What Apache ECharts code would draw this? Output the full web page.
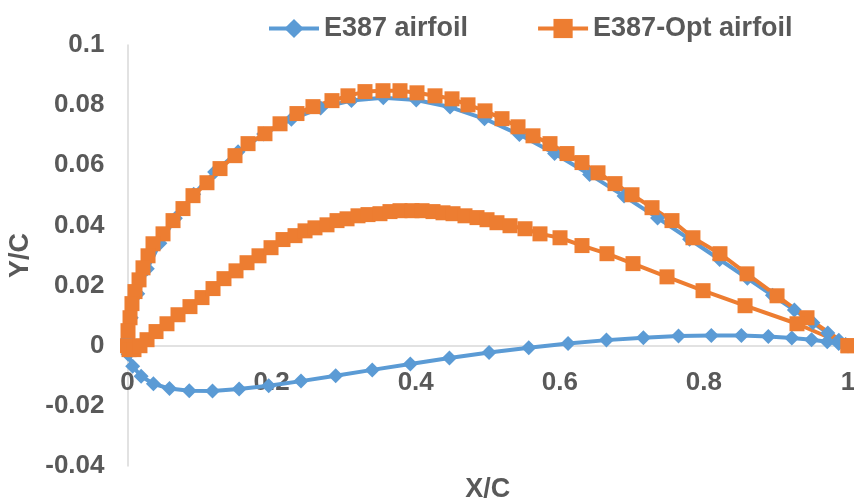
<!DOCTYPE html>
<html>
<head>
<meta charset="utf-8">
<script src="https://cdn.jsdelivr.net/npm/echarts@6/dist/echarts.min.js"></script>
<style>
html,body{margin:0;padding:0;background:#fff;}
#chart{width:854px;height:501px;}
</style>
</head>
<body>
<div id="chart"></div>
<script>
// E387 airfoil coordinates (upper TE -> LE -> lower TE)
var e387X = [1.00000,0.99677,0.98729,0.97198,0.95128,0.92554,0.89510,0.86035,0.82183,0.78007,0.73567,0.68922,0.64136,0.59272,0.54394,0.49549,0.44767,0.40077,0.35505,0.31078,0.26813,0.22742,0.18906,0.15345,0.12094,0.09185,0.06643,0.04493,0.02748,0.01423,0.00519,0.00044,0.00091,0.00717,0.01890,0.03596,0.05827,0.08569,0.11800,0.15490,0.19599,0.24083,0.28892,0.33968,0.39252,0.44679,0.50182,0.55694,0.61147,0.66472,0.71602,0.76475,0.81027,0.85202,0.88944,0.92205,0.94942,0.97118,0.98705,0.99674,1.00000];
var e387Y = [0.00000,0.00043,0.00180,0.00423,0.00763,0.01184,0.01679,0.02242,0.02866,0.03540,0.04249,0.04975,0.05696,0.06390,0.07020,0.07546,0.07936,0.08173,0.08247,0.08156,0.07908,0.07529,0.07037,0.06448,0.05775,0.05033,0.04238,0.03408,0.02562,0.01726,0.00931,0.00234,-0.00286,-0.00682,-0.01017,-0.01265,-0.01425,-0.01500,-0.01502,-0.01441,-0.01329,-0.01177,-0.00998,-0.00804,-0.00605,-0.00410,-0.00228,-0.00065,0.00074,0.00186,0.00268,0.00320,0.00342,0.00337,0.00307,0.00258,0.00196,0.00132,0.00071,0.00021,0.00000];

// E387-Opt airfoil: upper surface (TE -> LE)
var optUpperX = [1.0,0.9431,0.9015,0.8598,0.8223,0.7848,0.7557,0.7280,0.7002,0.6766,0.6530,0.6308,0.6100,0.5864,0.5628,0.5420,0.5198,0.4962,0.4726,0.4504,0.4268,0.4018,0.3782,0.3546,0.3296,0.3060,0.2838,0.2574,0.2352,0.2117,0.1908,0.1673,0.1492,0.1284,0.1103,0.0909,0.0770,0.0632,0.0493,0.0354,0.0285,0.0215,0.0160,0.0104,0.0062,0.0035,0.0007,0.0];
var optUpperY = [0.0,0.0093,0.0166,0.0239,0.0306,0.0359,0.0416,0.0459,0.0502,0.0539,0.0575,0.0609,0.0639,0.0672,0.0698,0.0728,0.0755,0.0781,0.0801,0.0821,0.0831,0.0841,0.0848,0.0848,0.0845,0.0831,0.0815,0.0795,0.0772,0.0738,0.0705,0.0672,0.0632,0.0589,0.0542,0.0499,0.0456,0.0416,0.0372,0.0339,0.0299,0.0259,0.0219,0.0180,0.0140,0.0093,0.0050,0.0];
// E387-Opt airfoil: lower surface (LE -> TE)
var optLowerX = [0.0021,0.0090,0.0173,0.0271,0.0396,0.0548,0.0701,0.0867,0.1034,0.1187,0.1339,0.1506,0.1659,0.1825,0.1992,0.2158,0.2325,0.2464,0.2602,0.2769,0.2908,0.3047,0.3199,0.3338,0.3504,0.3643,0.3782,0.3949,0.4088,0.4240,0.4379,0.4518,0.4684,0.4851,0.4990,0.5128,0.5309,0.5517,0.5725,0.6003,0.6308,0.6655,0.7016,0.7488,0.7988,0.8571,0.9292,1.0];
var optLowerY = [-0.0013,-0.0013,0.0000,0.0020,0.0047,0.0073,0.0103,0.0130,0.0160,0.0190,0.0223,0.0249,0.0276,0.0299,0.0326,0.0353,0.0366,0.0382,0.0392,0.0402,0.0416,0.0422,0.0432,0.0436,0.0439,0.0446,0.0449,0.0449,0.0449,0.0446,0.0442,0.0439,0.0432,0.0426,0.0419,0.0409,0.0399,0.0389,0.0372,0.0359,0.0333,0.0306,0.0273,0.0229,0.0183,0.0133,0.0073,0.0];

var xTicks = [0, 0.2, 0.4, 0.6, 0.8, 1];
var yTicks = [-0.04, -0.02, 0, 0.02, 0.04, 0.06, 0.08, 0.1];
var seriesNames = ['E387 airfoil', 'E387-Opt airfoil'];

function pairs(xs, ys) { return xs.map(function (x, i) { return [x, ys[i]]; }); }
var e387Data = pairs(e387X, e387Y);
var optData = pairs(optUpperX, optUpperY).concat(pairs(optLowerX, optLowerY));

var FONT = '"Liberation Sans", Arial, sans-serif';
var TXT = '#595959';
var GRID_TOP = 45, GRID_BOTTOM = 35, H = 501;
var plotH = H - GRID_TOP - GRID_BOTTOM;
var yMin = yTicks[0], yMax = yTicks[yTicks.length - 1];
// shift the x axis (line + labels) up so that it sits on Y/C = 0
var zeroOffset = -plotH * (0 - yMin) / (yMax - yMin);

var chart = echarts.init(document.getElementById('chart'), null, {renderer: 'canvas'});
chart.setOption({
  animation: false,
  backgroundColor: '#ffffff',
  textStyle: {fontFamily: FONT},
  legend: {
    left: 262, top: 10, padding: 5,
    itemWidth: 50, itemHeight: 24, itemGap: 68,
    lineStyle: {width: 4},
    textStyle: {fontFamily: FONT, fontSize: 27, fontWeight: 'bold', color: TXT},
    data: seriesNames
  },
  grid: {left: 127.5, right: 6, top: GRID_TOP, bottom: GRID_BOTTOM, containLabel: false, outerBoundsMode: 'none'},
  xAxis: {
    type: 'value', min: xTicks[0], max: xTicks[xTicks.length - 1], interval: 0.2,
    position: 'bottom', offset: zeroOffset,
    name: 'X/C', nameLocation: 'middle', nameGap: 130,
    nameTextStyle: {fontFamily: FONT, fontSize: 27, fontWeight: 'bold', color: TXT},
    axisLine: {show: true, onZero: false, lineStyle: {color: '#d9d9d9', width: 1.5}},
    axisTick: {show: false},
    splitLine: {show: false},
    axisLabel: {margin: 24, fontFamily: FONT, fontSize: 26, fontWeight: 'bold', color: TXT}
  },
  yAxis: {
    type: 'value', min: yMin, max: yMax, interval: 0.02,
    name: 'Y/C', nameLocation: 'middle', nameGap: 88, nameRotate: 90,
    nameTextStyle: {fontFamily: FONT, fontSize: 27, fontWeight: 'bold', color: TXT},
    axisLine: {show: true, onZero: false, lineStyle: {color: '#d9d9d9', width: 1.5}},
    axisTick: {show: false},
    splitLine: {show: false},
    axisLabel: {margin: 23, fontFamily: FONT, fontSize: 26, fontWeight: 'bold', color: TXT}
  },
  series: [
    {
      name: seriesNames[0], type: 'line', data: e387Data,
      symbol: 'diamond', symbolSize: 15, showAllSymbol: true,
      lineStyle: {color: '#5b9bd5', width: 4},
      itemStyle: {color: '#5b9bd5'}
    },
    {
      name: seriesNames[1], type: 'line', data: optData,
      symbol: 'rect', symbolSize: 15, showAllSymbol: true,
      lineStyle: {color: '#ed7d31', width: 4},
      itemStyle: {color: '#ed7d31'}
    }
  ]
});
</script>
</body>
</html>
